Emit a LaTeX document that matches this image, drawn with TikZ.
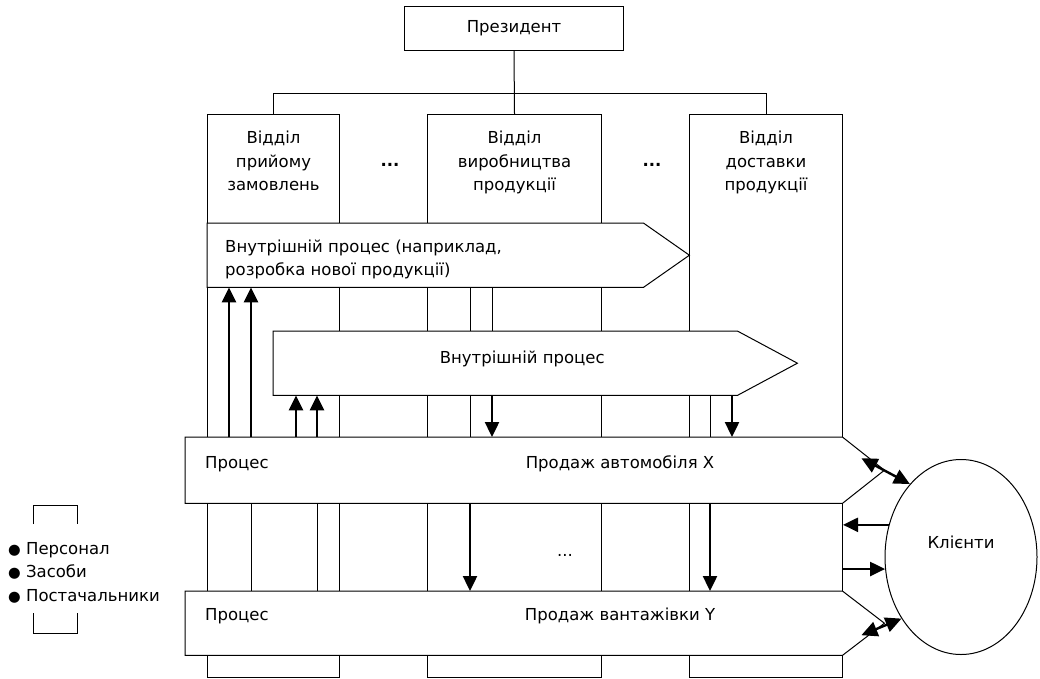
\documentclass[tikz,border=0pt]{standalone}
\usepackage{fontspec}
\setmainfont{DejaVu Sans}
\usetikzlibrary{arrows.meta, positioning, shapes.geometric}
\newcommand{\lbul}{{\fontsize{14.5}{23.5}\selectfont ●}}

\begin{document}
\begin{tikzpicture}[x=1pt, y=-1pt,
    every node/.style={font=\fontsize{16.5}{23.5}\selectfont, inner sep=0pt},
    box/.style={draw, rectangle, line width=1pt, anchor=north west},
    title/.style={align=center},
    gap/.style={font=\fontsize{16.5}{23.5}\selectfont\bfseries},
    band/.style={draw, line width=1pt, fill=white},
    lane/.style={line width=1pt},
    flow/.style={-{Triangle[length=15pt, width=14pt]}, line width=2.4pt},
    flowboth/.style={{Triangle[length=16pt, width=15pt]}-{Triangle[length=16pt, width=15pt]}, line width=2.4pt}]
    \path[fill=white, use as bounding box] (0,0) rectangle (1040,678);

    % President and department columns
    \node[box, minimum width=219pt, minimum height=44pt] (pres) at (404,6) {Президент};
    \node[box, minimum width=132pt, minimum height=563pt] (dep1) at (207,114) {};
    \node[box, minimum width=174pt, minimum height=563pt] (dep2) at (427,114) {};
    \node[box, minimum width=153pt, minimum height=563pt] (dep3) at (689,114) {};
    \node[title, below=17pt of dep1.north] {Відділ\\прийому\\замовлень};
    \node[title, below=17pt of dep2.north] {Відділ\\виробництва\\продукції};
    \node[title, below=17pt of dep3.north] {Відділ\\доставки\\продукції};
    \node[gap] at (390,165) {...};
    \node[gap] at (652,165) {...};

    % Tree lines
    \draw[lane] (pres.south) -- (dep2.north);
    \draw[lane] (dep1.north) -- ++(0,-21) -| (dep3.north);

    % Process bands (frames only)
    \node[anchor=north west, minimum width=436pt, minimum height=64pt] (band1) at (207,223) {};
    \node[anchor=north west, minimum width=464pt, minimum height=64pt] (band2) at (273,331) {};
    \node[anchor=north west, minimum width=657pt, minimum height=66pt] (bandX) at (185,437) {};
    \node[anchor=north west, minimum width=657pt, minimum height=64pt] (bandY) at (185,591) {};

    % Flow lanes inside the columns
    \coordinate (la) at ([xshift=22pt]dep1.north west);
    \coordinate (lb) at ([xshift=44pt]dep1.north west);
    \coordinate (lc) at ([xshift=89pt]dep1.north west);
    \coordinate (ld) at ([xshift=110pt]dep1.north west);
    \coordinate (le) at ([xshift=43pt]dep2.north west);
    \coordinate (lf) at ([xshift=65pt]dep2.north west);
    \coordinate (lg) at ([xshift=21pt]dep3.north west);
    \coordinate (lh) at ([xshift=43pt]dep3.north west);
    \draw[lane] (le |- band1.south) -- (le |- bandX.north);
    \draw[lane] (lf |- band1.south) -- (lf |- band2.north);
    \draw[lane] (lg |- band2.south) -- (lg |- bandX.north);
    \draw[lane] (lb |- bandX.south) -- (lb |- bandY.north);
    \draw[lane] (ld |- bandX.south) -- (ld |- bandY.north);

    % Band outlines
    \draw[band] (band1.north west) -- (band1.north east) -- ([xshift=46pt]band1.east)
        -- (band1.south east) -- (band1.south west) -- cycle;
    \draw[band] (band2.north west) -- (band2.north east) -- ([xshift=60pt]band2.east)
        -- (band2.south east) -- (band2.south west) -- cycle;
    \draw[band] (bandX.north west) -- (bandX.north east) -- ([xshift=42pt]bandX.east)
        -- (bandX.south east) -- (bandX.south west) -- cycle;
    \draw[band] (bandY.north west) -- (bandY.north east) -- ([xshift=42pt]bandY.east)
        -- (bandY.south east) -- (bandY.south west) -- cycle;

    % Band texts
    \node[anchor=west, align=left] at ([xshift=18pt, yshift=-4pt]band1.west)
        {Внутрішній процес (наприклад,\\розробка нової продукції)};
    \node[anchor=base] at ([xshift=17pt]band2.center) {Внутрішній процес};
    \node[anchor=base west] at ([xshift=20pt, yshift=-31pt]bandX.north west) {Процес};
    \node[anchor=base] at ([xshift=435pt, yshift=-31pt]bandX.north west) {Продаж автомобіля X};
    \node[anchor=base west] at ([xshift=20pt, yshift=-29pt]bandY.north west) {Процес};
    \node[anchor=base] at ([xshift=435pt, yshift=-29pt]bandY.north west) {Продаж вантажівки Y};
    \node at (565,555) {...};

    % Arrows between bands
    \draw[flow] (la |- bandX.north) -- (la |- band1.south);
    \draw[flow] (lb |- bandX.north) -- (lb |- band1.south);
    \draw[flow] (lc |- bandX.north) -- (lc |- band2.south);
    \draw[flow] (ld |- bandX.north) -- (ld |- band2.south);
    \draw[flow] (lf |- band2.south) -- (lf |- bandX.north);
    \draw[flow] (lh |- band2.south) -- (lh |- bandX.north);
    \draw[flow] (le |- bandX.south) -- (le |- bandY.north);
    \draw[flow] (lg |- bandX.south) -- (lg |- bandY.north);

    % Clients
    \node[draw, ellipse, line width=1pt, minimum width=152pt, minimum height=195pt,
        text depth=30pt] (clients) at (961,557) {Клієнти};
    \coordinate (xin) at ([shift={(19pt,12pt)}]bandX.east);
    \coordinate (yin) at ([shift={(19pt,-12pt)}]bandY.east);
    \draw[flowboth] (xin) -- (clients.125);
    \draw[flowboth] (yin) -- (clients.226);
    \draw[flow] (clients.156) -- (clients.156 -| dep3.east);
    \draw[flow] (clients.189 -| dep3.east) -- (clients.189);

    % Resources
    \node[anchor=north west, align=left] (legend) at (8,542)
        {\lbul{} Персонал\\\lbul{} Засоби\\\lbul{} Постачальники};
    \draw[lane] (33,524) -- (33,505) -- (77,505) -- (77,524);
    \draw[lane] (33,613) -- (33,633) -- (77,633) -- (77,613);
\end{tikzpicture}
\end{document}
